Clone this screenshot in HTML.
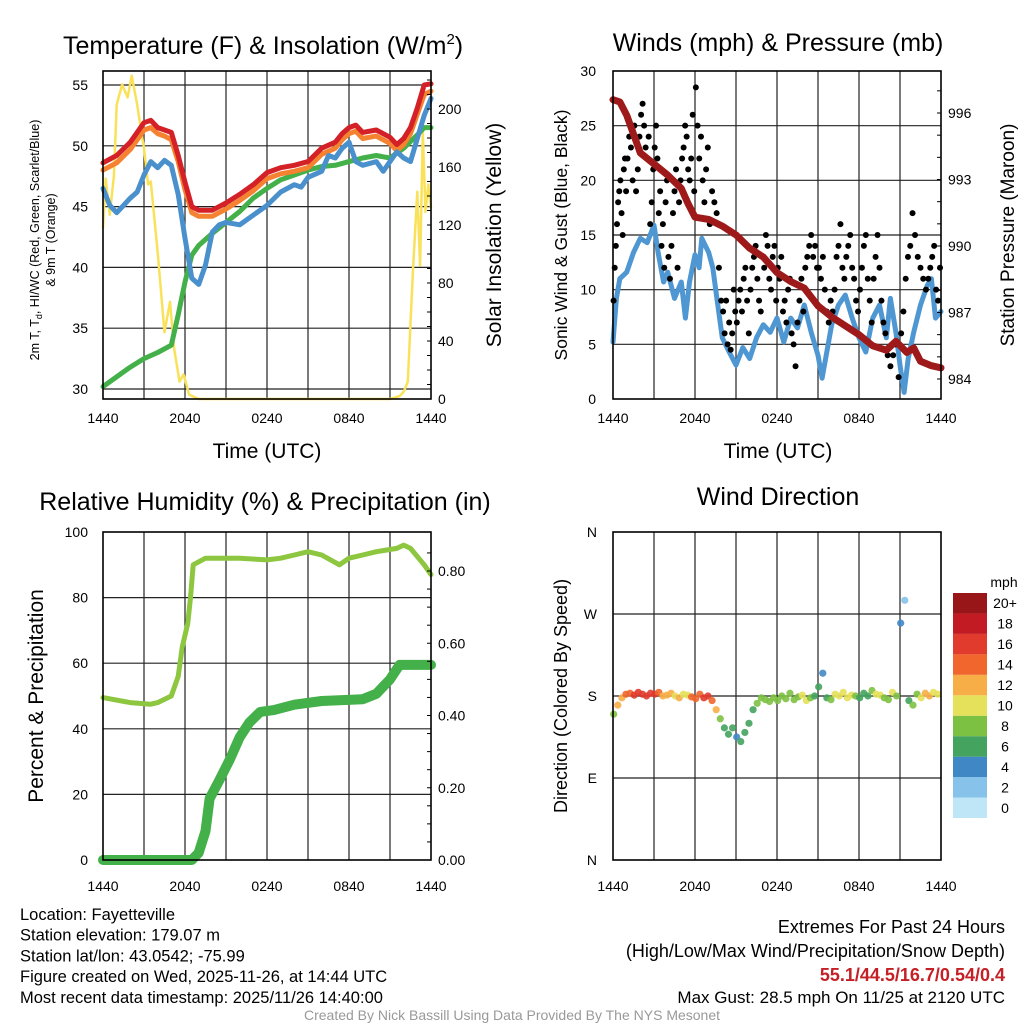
<!DOCTYPE html>
<html><head><meta charset="utf-8"><style>
body{margin:0;background:#fff}
svg{font-family:"Liberation Sans",sans-serif}
</style></head><body>
<svg id="c" width="1024" height="1024" viewBox="0 0 1024 1024" xmlns="http://www.w3.org/2000/svg"></svg>
<script>
// ---------- DATA ----------
const xTickLabels=["1440","2040","0240","0840","1440"];
// Panel 1 temperature (F)
const redT=[0,1,2,3,3.5,4,4.5,5,5.5,6,6.5,7,8,9,10,11,12,13,14,15,16,17,17.5,18,18.5,19,20,21,21.5,22,22.5,23,23.5,24];
const redV=[48.6,49.2,50.3,51.9,52.1,51.5,51.3,51.1,49.2,47,45,44.7,44.7,45.3,46,46.8,47.8,48.2,48.4,48.7,49.8,50.3,51,51.5,51.7,51.1,51.3,50.7,50.1,50.6,51.5,53.1,55,55.1];
const orangeV=[48,48.6,49.7,51.3,51.5,51,50.8,50.5,48.7,46.4,44.5,44.2,44.2,44.8,45.5,46.3,47.3,47.7,47.9,48.2,49.3,49.8,50.5,51,51.2,50.6,50.8,50.2,49.6,50.1,51,52.6,54.2,54.5];
const greenT=[0,1,2,3,4,5,5.5,6,6.5,7,8,9,10,11,12,13,14,15,16,17,18,19,20,21,22,23,23.5,24];
const greenV=[30.2,31,31.8,32.5,33,33.6,36.1,38.8,41,41.8,42.8,43.7,44.6,45.7,46.5,47.2,47.6,48,48.3,48.4,48.7,49,49.2,49,49.8,50.9,51.5,51.5];
const blueT=[0,0.5,1,1.5,2,2.5,3,3.5,4,4.5,5,5.5,6,6.5,7,7.5,8,8.5,9,10,11,12,13,14,14.5,15,16,16.5,17,17.5,18,18.5,19,20,20.5,21,21.5,22,22.5,23,23.5,24];
const blueV=[46.5,45.1,44.5,45.1,45.7,46.2,47.6,48.7,48.2,48.8,48.4,46,42.4,39.1,38.6,40.2,42.9,43.5,43.7,43.5,44.3,45.1,46.2,46.8,46.6,47.4,47.9,49.2,49,49.8,50.3,48.7,48.4,48.7,47.9,48.7,49.5,49,48.7,50.6,52.5,53.9];
const solarT=[0,0.2,0.5,0.8,1,1.4,1.8,2.1,2.5,2.8,3,3.3,3.5,4,4.5,4.9,5.2,5.6,5.9,6.3,7,21,21.7,22,22.3,22.7,23,23.2,23.4,23.6,23.8,24];
const solarV=[118,152,127,154,203,217,208,223,203,184,173,148,150,101,46,67,35,12,17,3,0,0,2,5,12,92,143,92,184,129,148,132];
// Panel 2 winds & pressure
const windT=[0,0.25,0.5,1,1.5,2,2.5,3,3.3,3.7,4,4.5,5,5.3,5.6,6,6.3,6.5,7,7.3,7.6,8,8.5,9,9.5,10,10.5,11,11.5,12,12.5,13,13.5,14,14.5,15,15.3,15.7,16,16.5,17,17.5,18,18.5,19,19.5,20,20.3,20.7,21,21.3,21.6,22,22.5,23,23.3,23.6,24];
const windV=[5.2,9.2,11,11.6,13.4,14.7,14.3,15.9,13.4,10.7,11.6,9.2,10.7,7.4,10.7,13.2,12,14.7,13.4,12,9.2,5.6,4.3,3.1,4.7,3.7,5.6,6.8,6.1,7.4,5.2,7.4,6.5,8.6,6.1,4,1.9,4.7,6.8,8.6,9.5,7.4,5.6,4.3,7.4,8.6,5.6,9.2,6.1,3.1,0.6,3.7,6.1,8.6,10.4,11,7.4,8];
const gustBins=[[9,12,14,16,18,19,20,17,15,21,22,19],[22,24,23,20,25,19,21,24],[26,27,25,23,22,24,16,18,21],[23,25,22,17,19,14,16,12,18,20],[13,11,14,17,19,21,12,18,20],[22,23,25,24,21,20,22,26,19],[28.5,25,22,24,20,18,21,23],[16,19,18,17,12,9],[8,6,9,5,7,4.5,6,10,8],[7,9,10,8,11,12,9,6],[10,12,13,14,11,9,8,13],[12,15,14,11,10,13,14,9],[12,11,13,8,9,7,10,11],[6,5,3,7,9,11,8],[12,13,14,15,13,14,12],[12,11,13,10,8,7,9],[8,10,13,14,16,12,11],[13,14,15,12,11,9,8],[10,12,14,15,11,9,7],[11,13,15,12,9,7,6],[4,3,4,5,2],[6,8,11,13,14,17],[15,13,12,11,10],[11,12,13,14,10,9,12]];
const presT=[0,0.5,1,2,3,4,5,5.5,6,7,8,9,10,11,12,13,14,15,16,17,18,19,20,20.7,21.5,22,22.5,23.3,24];
const presV=[996.6,996.5,995.9,994.2,993.7,993.2,992.6,991.9,991.3,991.2,990.9,990.5,989.9,989.5,988.8,988.4,988.1,987.3,986.8,986.4,986,985.5,985.3,985.7,985.2,985.4,984.8,984.6,984.5];
// Panel 3 RH & precip
const rhT=[0,2,3.5,4,5,5.5,5.8,6.2,6.4,6.6,7.5,10,12,13,14,15,16,17.3,18,19,20,21.5,22,22.5,23.5,24];
const rhV=[49.5,48,47.5,48,50,56,65,72,80,90,92,92,91.5,92,93,94,93,90,92,93,94,95,96,95,90,87];
const pcpT=[0,6.5,7,7.5,7.8,8.5,9.3,10,10.7,11.5,12.5,14,16,19,20,21,21.7,24];
const pcpV=[0,0,0.02,0.08,0.17,0.22,0.28,0.34,0.38,0.41,0.415,0.43,0.44,0.445,0.46,0.5,0.54,0.54];
// Panel 4 wind direction (every 0.3 h)
const dirV=[160,170,178,182,183,181,184,182,180,183,182,184,180,181,183,180,178,182,181,179,177,182,178,180,175,165,155,145,138,145,135,130,140,150,165,172,178,176,174,178,175,180,177,183,176,179,181,175,178,180,190,205,178,176,182,180,184,178,181,180,178,183,180,186,182,181,178,176,184,180,260,285,175,170,182,178,183,180,184,182];
const cbLabels=["0","2","4","6","8","10","12","14","16","18","20+"];
const cbColors=["#bfe6f7","#86c2ea","#3f88c5","#44a35e","#7dc143","#e6e15a","#f8ae47","#f0662c","#e13b2d","#c21b23","#981518"];

// ---------- HELPERS ----------
const svg=document.getElementById('c');const NS="http://www.w3.org/2000/svg";
function el(tag,attrs,parent){const e=document.createElementNS(NS,tag);for(const k in attrs)e.setAttribute(k,attrs[k]);(parent||svg).appendChild(e);return e;}
function txt(s,x,y,size,anchor,parent,extra){const t=el('text',Object.assign({x:x,y:y,'font-size':size,'text-anchor':anchor||'middle',fill:'#000'},extra||{}),parent);t.textContent=s;return t;}
function lin(d0,d1,r0,r1){return v=>r0+(v-d0)/(d1-d0)*(r1-r0);}
function poly(ts,vs,sx,sy,color,w,name,parent){const p=el('polyline',{points:ts.map((t,i)=>sx(t).toFixed(1)+','+sy(vs[i]).toFixed(1)).join(' '),fill:'none',stroke:color,'stroke-width':w,'stroke-linejoin':'round','stroke-linecap':'round'},parent);return p;}
function interp(ts,vs,t){for(let i=1;i<ts.length;i++){if(t<=ts[i]){const f=(t-ts[i-1])/(ts[i]-ts[i-1]);return vs[i-1]+f*(vs[i]-vs[i-1]);}}return vs[vs.length-1];}

function frame(x0,y0,x1,y1,name,hTicks,sy){
  const g=el('g',{});
  const sx=lin(0,24,x0,x1);
  for(let h=3;h<24;h+=3){const l=el('line',{x1:sx(h),x2:sx(h),y1:y0,y2:y1,stroke:'#222','stroke-width':1.2},g);}
  hTicks.forEach(v=>{const y=sy(v);if(y>y0+1&&y<y1-1){const l=el('line',{x1:x0,x2:x1,y1:y,y2:y,stroke:'#222','stroke-width':1.2},g);}});
  return g;
}
function border(x0,y0,x1,y1){const r=el('rect',{x:x0,y:y0,width:x1-x0,height:y1-y0,fill:'none',stroke:'#000','stroke-width':1.6});}
function xLabels(x0,x1,y){const sx=lin(0,24,x0,x1);xTickLabels.forEach((s,i)=>{const t=txt(s,sx(i*6),y,14);});}

// ---------- PANEL 1 ----------
{const X0=103,X1=431,Y0=71,Y1=399;const sx=lin(0,24,X0,X1);const sy=lin(30,55,389,85);const sr=lin(0,200,399,109);
 const lt=[30,35,40,45,50,55];frame(X0,Y0,X1,Y1,'temperature-grid',lt,sy);
 const g=el('g',{});
 poly(solarT,solarV,sx,sr,'#f9e25a',2.5,'solar-insolation-line',g);
 poly(greenT,greenV,sx,sy,'#43b049',5,'dewpoint-line',g);
 poly(redT,orangeV,sx,sy,'#f58230',5,'temp-9m-line',g);
 poly(redT,redV,sx,sy,'#d42027',5,'temp-2m-line',g);
 poly(blueT,blueV,sx,sy,'#4a90cc',5,'heat-index-windchill-line',g);
 border(X0,Y0,X1,Y1);
 lt.forEach(v=>{const t=txt(String(v),88,sy(v)+5,14,'end');});
 [0,40,80,120,160,200].forEach(v=>{const t=txt(String(v),438,sr(v)+5,14,'start');});
 for(let v=0;v<=220;v+=10){el('line',{x1:X1-4,x2:X1,y1:sr(v),y2:sr(v),stroke:'#000','stroke-width':1});}
 xLabels(X0,X1,423);
 const tt=el('text',{x:63,y:54,'font-size':25,'text-anchor':'start',fill:'#000'});tt.innerHTML='Temperature (F) &amp; Insolation (W/m<tspan font-size="15" dy="-10">2</tspan><tspan dy="10">)</tspan>';
 const xt=txt('Time (UTC)',267,458,21);
 const yl=txt('2m T, T',0,0,12.5,'middle',svg,{transform:'translate(39,240) rotate(-90)'});yl.innerHTML='2m T, T<tspan font-size="9" dy="3">d</tspan><tspan dy="-3">, HI/WC (Red, Green, Scarlet/Blue)</tspan>';
 const yl2=txt('& 9m T (Orange)',0,0,12.5,'middle',svg,{transform:'translate(55,240) rotate(-90)'});
 const yr=txt('Solar Insolation (Yellow)',0,0,21,'middle',svg,{transform:'translate(501,235) rotate(-90)'});
}
// ---------- PANEL 2 ----------
{const X0=613,X1=941,Y0=71,Y1=399;const sx=lin(0,24,X0,X1);const sy=lin(0,30,Y1,Y0);const sp=lin(984,996,379,113);
 const lt=[0,5,10,15,20,25,30];frame(X0,Y0,X1,Y1,'winds-grid',lt,sy);
 const g=el('g',{});
 poly(windT,windV,sx,sy,'#4f97d2',5,'sonic-wind-line',g);
 gustBins.forEach((bin,h)=>bin.forEach((v,i)=>{const c=el('circle',{cx:sx(h+(i+0.5)/bin.length),cy:sy(v),r:3,fill:'#000'},g);}));
 poly(presT,presV,sx,sp,'#9e1a1a',7,'pressure-line',g);
 border(X0,Y0,X1,Y1);
 lt.forEach(v=>{const t=txt(String(v),596,sy(v)+5,14,'end');});
 [984,987,990,993,996].forEach(v=>{const t=txt(String(v),948,sp(v)+5,14,'start');});
 for(let v=984;v<=997;v++){el('line',{x1:X1-4,x2:X1,y1:sp(v),y2:sp(v),stroke:'#000','stroke-width':1});}
 xLabels(X0,X1,423);
 const tt=txt('Winds (mph) & Pressure (mb)',778,51,25);
 const xt=txt('Time (UTC)',778,458,21);
 const yl=txt('Sonic Wind & Gust (Blue, Black)',0,0,17.5,'middle',svg,{transform:'translate(567,235) rotate(-90)'});
 const yr=txt('Station Pressure (Maroon)',0,0,19,'middle',svg,{transform:'translate(1014,235) rotate(-90)'});
}
// ---------- PANEL 3 ----------
{const X0=103,X1=431,Y0=532,Y1=860;const sx=lin(0,24,X0,X1);const sy=lin(0,100,Y1,Y0);const sr=lin(0,0.8,860,571);
 const lt=[0,20,40,60,80,100];frame(X0,Y0,X1,Y1,'humidity-grid',lt,sy);
 const g=el('g',{});
 poly(rhT,rhV,sx,sy,'#8dc63f',5,'relative-humidity-line',g);
 poly(pcpT,pcpV,sx,sr,'#43b049',10,'precipitation-line',g);
 border(X0,Y0,X1,Y1);
 lt.forEach(v=>{const t=txt(String(v),88,sy(v)+5,14,'end');});
 [0,0.2,0.4,0.6,0.8].forEach(v=>{const t=txt(v.toFixed(2),438,sr(v)+5,14,'start');});
 for(let v=0;v<=0.9;v+=0.05){el('line',{x1:X1-4,x2:X1,y1:sr(v),y2:sr(v),stroke:'#000','stroke-width':1});}
 xLabels(X0,X1,891);
 const tt=txt('Relative Humidity (%) & Precipitation (in)',265,510,25);
 const yl=txt('Percent & Precipitation',0,0,21,'middle',svg,{transform:'translate(43,696) rotate(-90)'});
}
// ---------- PANEL 4 ----------
{const X0=613,X1=941,Y0=532,Y1=860;const sx=lin(0,24,X0,X1);const sy=lin(0,360,Y1,Y0);
 frame(X0,Y0,X1,Y1,'direction-grid',[90,180,270],sy);
 const g=el('g',{});
 dirV.forEach((d,i)=>{const t=i*0.3+0.05;const sp=interp(windT,windV,t)+1.5;const ci=Math.min(10,Math.max(0,Math.round(sp/2)));const c=el('circle',{cx:sx(t),cy:sy(d),r:3.6,fill:cbColors[ci],'fill-opacity':0.9},g);});
 border(X0,Y0,X1,Y1);
 [["N",0],["E",90],["S",180],["W",270],["N",360]].forEach(([s,v])=>{const t=txt(s,597,sy(v)+5,14,'end');});
 xLabels(X0,X1,891);
 const tt=txt('Wind Direction',778,505,25);
 const yl=txt('Direction (Colored By Speed)',0,0,18,'middle',svg,{transform:'translate(567,696) rotate(-90)'});
 const cb=el('g',{});
 const bh=225/11;
 cbColors.forEach((c,i)=>{const y=818-(i+1)*bh;const r=el('rect',{x:953,y:y,width:34,height:bh,fill:c},cb);
   const t=txt(cbLabels[i],1005,y+bh/2+5,14,'middle',cb);});
 const m=txt('mph',1004,587,14,'middle',cb);
}
// ---------- FOOTER ----------
{const lines=["Location: Fayetteville","Station elevation: 179.07 m","Station lat/lon: 43.0542; -75.99","Figure created on Wed, 2025-11-26, at 14:44 UTC","Most recent data timestamp: 2025/11/26 14:40:00"];
 lines.forEach((s,i)=>{const t=txt(s,20,920+i*20.7,16.5,'start');});
 const r1=txt('Extremes For Past 24 Hours',1005,933,18,'end');
 const r2=txt('(High/Low/Max Wind/Precipitation/Snow Depth)',1005,957,18,'end');
 const r3=txt('55.1/44.5/16.7/0.54/0.4',1005,981,18,'end',svg,{fill:'#c42026','font-weight':'bold'});
 const r4=txt('Max Gust: 28.5 mph On 11/25 at 2120 UTC',1005,1003,17,'end');
 const cr=txt('Created By Nick Bassill Using Data Provided By The NYS Mesonet',512,1020,14,'middle',svg,{fill:'#999'});
}
</script>
</body></html>
